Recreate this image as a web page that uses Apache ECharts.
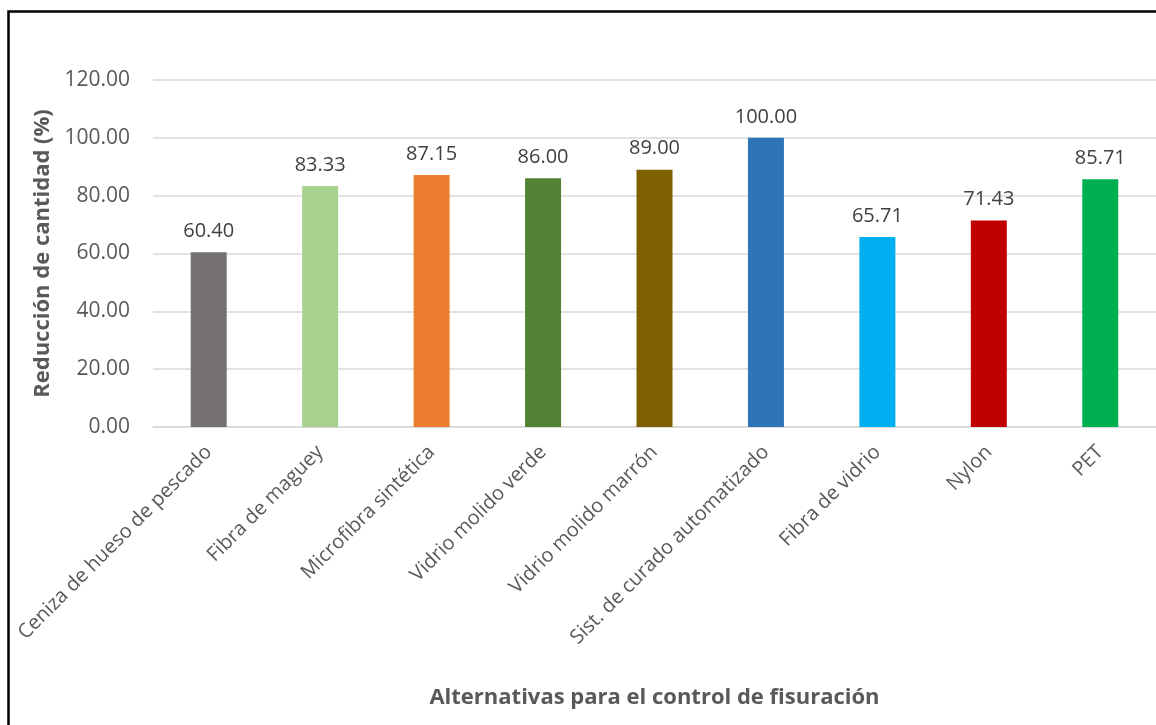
<!DOCTYPE html>
<html>
<head>
<meta charset="utf-8">
<script src="https://cdn.jsdelivr.net/npm/echarts@6/dist/echarts.min.js"></script>
<style>
html,body{margin:0;padding:0;background:#fff;}
#chart{width:1156px;height:725px;}
</style>
</head>
<body>
<div id="chart"></div>
<script>
const categories = ["Ceniza de hueso de pescado","Fibra de maguey","Microfibra sintética","Vidrio molido verde","Vidrio molido marrón","Sist. de curado automatizado","Fibra de vidrio","Nylon","PET"];
const values = [60.40, 83.33, 87.15, 86.00, 89.00, 100.00, 65.71, 71.43, 85.71];
const barColors = ["#767171","#A9D18E","#ED7D31","#548235","#7F6000","#2E75B6","#00B0F0","#C00000","#00B050"];
const yTicks = [0, 20, 40, 60, 80, 100, 120];
const yTitle = "Reducción de cantidad (%)";
const xTitle = "Alternativas para el control de fisuración";

const FONT = "'Open Sans', 'Noto Sans', sans-serif";
const chart = echarts.init(document.getElementById('chart'), null, {renderer:'canvas'});
chart.setOption({
  animation:false,
  backgroundColor:'#fff',
  graphic:[{
    type:'rect', left:6, top:9, z:100,
    shape:{width:1200, height:760},
    style:{fill:'none', stroke:'#000', lineWidth:2.5}
  }],
  grid:{left:153, top:80, width:1010, height:347, containLabel:false},
  xAxis:{
    type:'category', data:categories,
    axisLine:{show:true, lineStyle:{color:'#d9d9d9', width:1.5}},
    axisTick:{show:false},
    axisLabel:{rotate:45, interval:0, color:'#595959', fontFamily:FONT, fontSize:20, margin:22},
    name:xTitle, nameLocation:'middle', nameGap:260,
    nameTextStyle:{color:'#595959', fontFamily:FONT, fontSize:22, fontWeight:'bold'}
  },
  yAxis:{
    type:'value', min:yTicks[0], max:yTicks[yTicks.length-1], interval:20,
    axisLine:{show:false}, axisTick:{show:false},
    splitLine:{lineStyle:{color:'#d9d9d9', width:1.5}},
    axisLabel:{color:'#595959', fontFamily:FONT, fontSize:21, margin:23,
      formatter:v=>v.toFixed(2)},
    name:yTitle, nameLocation:'middle', nameGap:93, nameRotate:90,
    nameTextStyle:{color:'#595959', fontFamily:FONT, fontSize:22, fontWeight:'bold'}
  },
  series:[{
    type:'bar', barWidth:36,
    data:values.map((v,i)=>({value:v, itemStyle:{color:barColors[i]}})),
    label:{show:true, position:'top', distance:11, color:'#404040', fontFamily:FONT, fontSize:20,
      formatter:p=>p.value.toFixed(2)}
  }]
});
</script>
</body>
</html>
